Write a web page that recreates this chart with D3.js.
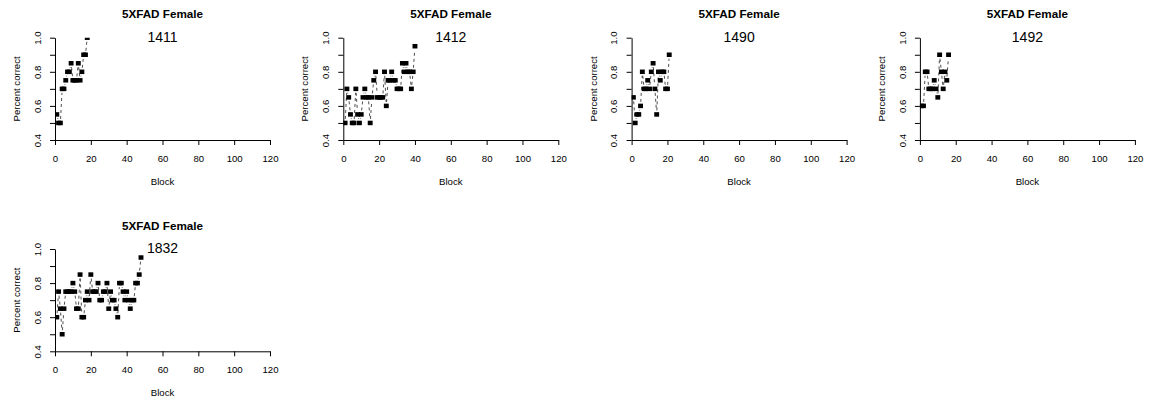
<!DOCTYPE html>
<html>
<head>
<meta charset="utf-8">
<script src="https://cdn.jsdelivr.net/npm/d3@7"></script>
<style>
  html, body { margin: 0; padding: 0; background: #fff; }
  svg { display: block; font-family: "Liberation Sans", Arial, sans-serif; }
</style>
</head>
<body>
<svg id="chart" width="1151" height="402"></svg>
<script>
// Percent correct per block, one array per mouse
const pct1411 = [0.55, 0.5, 0.5, 0.7, 0.7, 0.75, 0.8, 0.8, 0.85, 0.75, 0.75, 0.75, 0.85, 0.75, 0.8, 0.9, 0.9, 1.0];
const pct1412 = [0.5, 0.7, 0.65, 0.55, 0.5, 0.5, 0.7, 0.55, 0.5, 0.55, 0.65, 0.7, 0.65, 0.65, 0.5, 0.65, 0.75, 0.8, 0.65, 0.65,
                 0.65, 0.65, 0.8, 0.6, 0.75, 0.75, 0.8, 0.75, 0.75, 0.7, 0.7, 0.7, 0.85, 0.8, 0.85, 0.8, 0.8, 0.7, 0.8, 0.95];
const pct1490 = [0.65, 0.5, 0.55, 0.55, 0.6, 0.8, 0.7, 0.7, 0.75, 0.7, 0.8, 0.85, 0.7, 0.55, 0.8, 0.75, 0.8, 0.8, 0.7, 0.7, 0.9];
const pct1492 = [0.6, 0.6, 0.8, 0.8, 0.7, 0.7, 0.7, 0.75, 0.7, 0.65, 0.9, 0.8, 0.7, 0.8, 0.75, 0.9];
const pct1832 = [0.6, 0.75, 0.65, 0.5, 0.65, 0.75, 0.75, 0.75, 0.75, 0.8, 0.75, 0.65, 0.65, 0.85, 0.6, 0.6, 0.7, 0.75, 0.7, 0.85,
                 0.75, 0.75, 0.75, 0.8, 0.7, 0.7, 0.75, 0.75, 0.8, 0.65, 0.75, 0.7, 0.7, 0.65, 0.6, 0.8, 0.8, 0.75, 0.7, 0.75,
                 0.7, 0.65, 0.7, 0.7, 0.8, 0.8, 0.85, 0.95];

const mouseIds = ['1411', '1412', '1490', '1492', '1832'];
const mouseData = [pct1411, pct1412, pct1490, pct1492, pct1832];
const panelTitle = '5XFAD Female';
const xTicks = [0, 20, 40, 60, 80, 100, 120];
const yTicks = [0.4, 0.5, 0.6, 0.7, 0.8, 0.9, 1.0];
const yTickLabels = ['0.4', '', '0.6', '', '0.8', '', '1.0'];   // R drops the crowded ones
const xLabel = 'Block';
const yLabel = 'Percent correct';

// Panel geometry (R-style mfrow grid)
const colStep = 288.3, rowStep = 211.3;
const plotL = 55, plotR = 270, plotT = 37.7, plotB = 140;
const sqW = 4.9, sqH = 4.5;   // pch 15 square
const gap = 4;                // type="b" gap around points

const svg = d3.select('#chart');

const x = d3.scaleLinear().domain([0, 120]).range([plotL, plotR]);
const y = d3.scaleLinear().domain([0.4, 1.0]).range([plotB, plotT]);

svg.append('defs').append('clipPath').attr('id', 'plotClip')
  .append('rect')
  .attr('x', plotL).attr('y', plotT)
  .attr('width', plotR - plotL).attr('height', plotB - plotT);

mouseIds.forEach((id, i) => {
  const col = i % 4, row = Math.floor(i / 4);
  const g = svg.append('g').attr('transform', `translate(${col * colStep},${row * rowStep})`);
  const pts = mouseData[i].map((v, k) => ({ block: k + 1, v }));

  // Title
  g.append('text')
    .attr('x', (plotL + plotR) / 2).attr('y', 18.3)
    .attr('text-anchor', 'middle')
    .attr('font-size', '11.7px').attr('font-weight', 'bold')
    .attr('fill', '#000')
    .text(panelTitle);

  // Axes
  const xAxis = g.append('g').attr('transform', `translate(0,${plotB})`)
    .call(d3.axisBottom(x).tickValues(xTicks).tickSize(5).tickPadding(4).tickSizeOuter(0));
  const yAxis = g.append('g').attr('transform', `translate(${plotL},0)`)
    .call(d3.axisLeft(y).tickValues(yTicks).tickSize(5)
      .tickFormat((d, k) => yTickLabels[k]).tickSizeOuter(0));

  [xAxis, yAxis].forEach(a => {
    a.select('.domain').attr('stroke', '#000').attr('stroke-width', 1);
    a.selectAll('.tick line').attr('stroke', '#000').attr('stroke-width', 1);
    a.selectAll('.tick text').attr('font-size', '9.6px').attr('fill', '#000')
      .attr('font-family', '"Liberation Sans", Arial, sans-serif');
  });
  xAxis.selectAll('.tick text').attr('dy', null).attr('y', 21.7);
  yAxis.selectAll('.tick text')
    .attr('x', null).attr('dy', null)
    .attr('text-anchor', 'middle')
    .attr('transform', 'translate(-14.3,0) rotate(-90)');

  // Axis labels
  g.append('text')
    .attr('x', (plotL + plotR) / 2).attr('y', 185)
    .attr('text-anchor', 'middle').attr('font-size', '9.6px').attr('fill', '#000')
    .text(xLabel);
  g.append('text')
    .attr('transform', `translate(20,${(plotT + plotB) / 2}) rotate(-90)`)
    .attr('text-anchor', 'middle').attr('font-size', '9.6px').attr('fill', '#000')
    .text(yLabel);

  // Mouse id
  g.append('text')
    .attr('x', x(60)).attr('y', 41.8)
    .attr('text-anchor', 'middle').attr('font-size', '14px').attr('fill', '#000')
    .text(id);

  const data = g.append('g').attr('clip-path', 'url(#plotClip)');

  // Dashed connecting segments with gaps (type = "b")
  const segs = d3.pairs(pts).map(([a, b]) => {
    const x1 = x(a.block), y1 = y(a.v), x2 = x(b.block), y2 = y(b.v);
    const len = Math.hypot(x2 - x1, y2 - y1);
    if (len <= 2 * gap) return null;
    const ux = (x2 - x1) / len, uy = (y2 - y1) / len;
    return [[x1 + ux * gap, y1 + uy * gap], [x2 - ux * gap, y2 - uy * gap]];
  }).filter(Boolean);

  data.selectAll('path.seg').data(segs).join('path')
    .attr('class', 'seg')
    .attr('d', d => d3.line()(d))
    .attr('fill', 'none')
    .attr('stroke', '#222')
    .attr('stroke-width', 0.8)
    .attr('stroke-dasharray', '3,3');

  data.selectAll('rect.pt').data(pts).join('rect')
    .attr('class', 'pt')
    .attr('x', d => x(d.block) - sqW / 2)
    .attr('y', d => y(d.v) - sqH / 2)
    .attr('width', sqW).attr('height', sqH)
    .attr('fill', '#000');
});
</script>
</body>
</html>
